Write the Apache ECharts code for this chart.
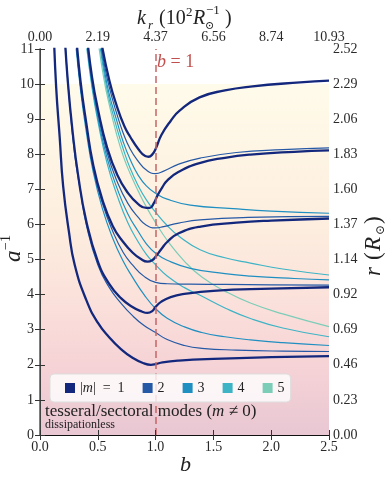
<!DOCTYPE html>
<html>
<head>
<meta charset="utf-8">
<script src="https://cdn.jsdelivr.net/npm/echarts@6.0.0/dist/echarts.min.js"></script>
<style>html,body{margin:0;padding:0;background:#fff}#chart{width:390px;height:482px}</style>
</head>
<body>
<div id="chart"></div>
<script>
// tick labels
const bLabels = ['0.0', '0.5', '1.0', '1.5', '2.0', '2.5'];
const kLabels = ['0.00', '2.19', '4.37', '6.56', '8.74', '10.93'];
const rLabels = ['0.00', '0.23', '0.46', '0.69', '0.92', '1.14', '1.37', '1.60', '1.83', '2.06', '2.29', '2.52'];
const legendNames = ['|m| = 1', '2', '3', '4', '5'];

// curves [b, a^-1]; lXmY = degree l, order |m|
const l1m1 = [[0.12,11.4],[0.14,9.9],[0.17,8.5],[0.2,7.1],[0.25,5.8],[0.3,4.85],[0.4,3.85],[0.5,3.2],[0.6,2.78],[0.7,2.45],[0.8,2.2],[0.9,2.04],[0.96,2.0],[1.0,2.02],[1.06,2.07],[1.2,2.12],[1.5,2.17],[2.0,2.22],[2.5,2.25]];
const l2m1 = [[0.21,11.6],[0.24,10.1],[0.28,8.7],[0.33,7.4],[0.4,6.1],[0.5,4.95],[0.6,4.3],[0.7,3.9],[0.8,3.65],[0.88,3.52],[0.93,3.48],[0.97,3.53],[1.0,3.65],[1.05,3.8],[1.13,3.93],[1.25,4.02],[1.5,4.11],[2.0,4.17],[2.5,4.21]];
const l3m1 = [[0.31,11.5],[0.35,10.1],[0.4,8.9],[0.46,7.7],[0.54,6.7],[0.63,5.95],[0.72,5.5],[0.8,5.2],[0.87,5.02],[0.93,4.94],[0.97,4.98],[1.0,5.08],[1.05,5.3],[1.1,5.5],[1.2,5.75],[1.39,5.94],[1.7,6.05],[2.0,6.11],[2.5,6.17]];
const l4m1 = [[0.405,11.4],[0.45,10.2],[0.5,9.3],[0.58,8.2],[0.67,7.4],[0.76,6.9],[0.85,6.58],[0.92,6.47],[0.95,6.47],[0.98,6.58],[1.02,6.85],[1.06,7.07],[1.1,7.25],[1.2,7.5],[1.38,7.75],[1.6,7.9],[1.82,7.99],[2.2,8.07],[2.5,8.11]];
const l5m1 = [[0.525,11.3],[0.6,10.1],[0.666,9.36],[0.73,8.8],[0.78,8.5],[0.85,8.15],[0.91,7.95],[0.94,7.93],[0.97,7.99],[1.0,8.15],[1.05,8.55],[1.13,8.95],[1.21,9.25],[1.38,9.62],[1.6,9.82],[1.82,9.93],[2.25,10.05],[2.5,10.1]];

const l2m2 = [[0.215,11.3],[0.25,9.7],[0.3,8.0],[0.35,6.95],[0.4,6.0],[0.5,4.85],[0.6,4.2],[0.7,3.76],[0.8,3.4],[0.9,3.12],[1.0,2.92],[1.1,2.72],[1.25,2.55],[1.4,2.47],[1.7,2.42],[2.1,2.39],[2.5,2.38]];
const l3m2 = [[0.31,11.3],[0.35,9.95],[0.4,8.8],[0.46,7.6],[0.54,6.6],[0.63,5.8],[0.72,5.2],[0.8,4.85],[0.9,4.52],[1.0,4.35],[1.1,4.31],[1.3,4.3],[1.6,4.29],[2.0,4.28],[2.5,4.27]];
const l4m2 = [[0.405,11.3],[0.45,10.1],[0.5,9.2],[0.58,8.05],[0.67,7.2],[0.76,6.6],[0.85,6.2],[0.92,5.98],[1.0,5.9],[1.07,5.94],[1.2,6.04],[1.385,6.13],[1.8,6.2],[2.5,6.23]];
const l5m2 = [[0.52,11.3],[0.56,10.5],[0.6,9.9],[0.66,9.2],[0.72,8.6],[0.78,8.15],[0.85,7.8],[0.92,7.55],[1.0,7.45],[1.07,7.52],[1.2,7.72],[1.385,7.89],[1.7,8.05],[2.1,8.13],[2.5,8.18]];

const l3m3 = [[0.305,11.3],[0.35,9.85],[0.4,8.65],[0.46,7.5],[0.54,6.45],[0.63,5.6],[0.72,4.95],[0.8,4.5],[0.9,4.0],[1.0,3.6],[1.1,3.33],[1.25,3.08],[1.4,2.92],[1.6,2.8],[1.82,2.71],[2.1,2.63],[2.5,2.55]];
const l4m3 = [[0.4,11.3],[0.45,10.0],[0.5,9.05],[0.58,7.9],[0.67,7.0],[0.76,6.3],[0.85,5.8],[0.92,5.45],[1.0,5.18],[1.1,4.98],[1.3,4.75],[1.6,4.6],[1.82,4.53],[2.2,4.46],[2.5,4.42]];
const l5m3 = [[0.515,11.3],[0.56,10.35],[0.6,9.7],[0.66,9.0],[0.72,8.35],[0.78,7.85],[0.85,7.4],[0.92,7.1],[1.0,6.89],[1.1,6.72],[1.3,6.55],[1.67,6.45],[2.0,6.38],[2.5,6.32]];

const l4m4 = [[0.395,11.3],[0.45,9.9],[0.5,8.95],[0.58,7.75],[0.67,6.8],[0.76,6.05],[0.85,5.5],[0.92,5.15],[1.0,4.85],[1.1,4.53],[1.25,4.2],[1.385,3.98],[1.6,3.62],[1.82,3.32],[2.1,3.05],[2.5,2.8]];
const l5m4 = [[0.51,11.3],[0.56,10.2],[0.6,9.55],[0.66,8.8],[0.72,8.15],[0.78,7.6],[0.85,7.1],[0.92,6.7],[1.0,6.35],[1.1,5.97],[1.2,5.67],[1.385,5.28],[1.6,5.05],[1.82,4.9],[2.1,4.73],[2.5,4.56]];

const l5m5 = [[0.5,11.3],[0.55,10.2],[0.6,9.4],[0.66,8.6],[0.72,7.95],[0.78,7.45],[0.85,6.95],[0.92,6.5],[1.0,6.05],[1.1,5.55],[1.25,4.95],[1.4,4.5],[1.6,4.1],[1.82,3.76],[2.1,3.45],[2.5,3.09]];

const mColors = ['#13287c', '#2559a6', '#1f8fc1', '#3db4c6', '#7ccdb8'];
const mWidths = [2.3, 1.2, 1.2, 1.2, 1.2];

// draw order: high |m| first, |m| = 1 on top
const curves = [
  [5, l5m5],
  [4, l4m4], [4, l5m4],
  [3, l3m3], [3, l4m3], [3, l5m3],
  [2, l2m2], [2, l3m2], [2, l4m2], [2, l5m2],
  [1, l1m1], [1, l2m1], [1, l3m1], [1, l4m1], [1, l5m1]
];

const SERIF = '"Liberation Serif", "DejaVu Serif", serif';

const chart = echarts.init(document.getElementById('chart'));

const series = curves.map(([m, data]) => ({
  type: 'line',
  name: legendNames[m - 1],
  data: data,
  showSymbol: false,
  smooth: 0.5,
  silent: true,
  z: 3,
  lineStyle: { width: mWidths[m - 1], color: mColors[m - 1] },
  itemStyle: { color: mColors[m - 1] }
}));

// background band below a^-1 = 10
series.unshift({
  type: 'line',
  data: [],
  silent: true,
  z: 1,
  markArea: {
    silent: true,
    itemStyle: {
      color: new echarts.graphic.LinearGradient(0, 0, 0, 1, [
        { offset: 0, color: '#fffbea' },
        { offset: 0.4, color: '#fdeedf' },
        { offset: 0.6, color: '#fbe2db' },
        { offset: 0.8, color: '#f6d3d6' },
        { offset: 1, color: '#e9c7d3' }
      ])
    },
    data: [[{ xAxis: 0, yAxis: 10 }, { xAxis: 2.5, yAxis: 0 }]]
  }
});

// b = 1 marker
series.push({
  type: 'line',
  data: [],
  silent: true,
  z: 3,
  markLine: {
    silent: true,
    symbol: 'none',
    animation: false,
    label: { show: false },
    lineStyle: { type: [7, 4], color: 'rgba(196,100,100,0.75)', width: 2 },
    data: [{ xAxis: 1 }]
  }
});

const axisCommon = {
  z: 5,
  axisLine: { show: true, lineStyle: { color: '#111', width: 1 } },
  axisTick: { show: true, inside: true, length: 5, lineStyle: { color: '#333' } },
  splitLine: { show: false },
  axisLabel: { fontFamily: SERIF, fontSize: 14, color: '#2a2a2a' }
};

const option = {
  animation: false,
  grid: { left: 40, right: 61, top: 49, bottom: 47 },
  legend: {
    data: legendNames,
    left: 50,
    top: 374,
    icon: 'rect',
    itemWidth: 10,
    itemHeight: 10,
    itemGap: 18,
    padding: [7, 6, 7, 15],
    backgroundColor: 'rgba(255,255,255,0.8)',
    borderColor: '#dddddd',
    borderWidth: 1,
    borderRadius: 4,
    z: 6,
    selectedMode: false,
    formatter: name => name === legendNames[0] ? '{n||}{i|m}{n||  =  1}' : '{n|' + name + '}',
    textStyle: {
      rich: {
        n: { fontFamily: SERIF, fontSize: 14, color: '#222' },
        i: { fontFamily: SERIF, fontSize: 14, fontStyle: 'italic', color: '#222' }
      }
    }
  },
  xAxis: [
    Object.assign({}, axisCommon, {
      type: 'value', position: 'bottom', min: 0, max: 2.5, interval: 0.5,
      axisLabel: Object.assign({}, axisCommon.axisLabel, { margin: 5, formatter: v => bLabels[Math.round(v / 0.5)] })
    }),
    Object.assign({}, axisCommon, {
      type: 'value', position: 'top', min: 0, max: 2.5, interval: 0.5,
      axisLabel: Object.assign({}, axisCommon.axisLabel, { margin: 5, formatter: v => kLabels[Math.round(v / 0.5)] })
    })
  ],
  yAxis: [
    Object.assign({}, axisCommon, {
      type: 'value', position: 'left', min: 0, max: 11, interval: 1,
      axisLabel: Object.assign({}, axisCommon.axisLabel, { margin: 6 })
    }),
    Object.assign({}, axisCommon, {
      type: 'value', position: 'right', min: 0, max: 11, interval: 1,
      axisLine: { show: true, lineStyle: { color: '#555', width: 1.5 } },
      axisLabel: Object.assign({}, axisCommon.axisLabel, { margin: 4, formatter: v => rLabels[v] })
    })
  ],
  series: series,
  graphic: [
    // top axis title: k_r (10^2 R_sun^-1)
    { type: 'text', left: 137, top: 9, style: { text: 'k', font: 'italic 20px ' + SERIF, fill: '#222' } },
    { type: 'text', left: 148, top: 19, style: { text: 'r', font: 'italic 13px ' + SERIF, fill: '#222' } },
    { type: 'text', left: 159, top: 9, style: { text: '(10', font: '20px ' + SERIF, fill: '#222' } },
    { type: 'text', left: 186, top: 6, style: { text: '2', font: '13px ' + SERIF, fill: '#222' } },
    { type: 'text', left: 193, top: 9, style: { text: 'R', font: 'italic 20px ' + SERIF, fill: '#222' } },
    { type: 'text', left: 205, top: 21, style: { text: '⊙', font: '11px ' + SERIF, fill: '#222' } },
    { type: 'text', left: 206, top: 4, style: { text: '−1', font: '13px ' + SERIF, fill: '#222' } },
    { type: 'text', left: 225, top: 9, style: { text: ')', font: '20px ' + SERIF, fill: '#222' } },
    // bottom axis title
    { type: 'text', left: 180, top: 454, style: { text: 'b', font: 'italic 22px ' + SERIF, fill: '#222' } },
    // left axis title a^-1
    {
      type: 'group', x: 14, y: 262, rotation: Math.PI / 2,
      children: [
        { type: 'text', x: 0, y: 0, style: { text: 'a', font: 'italic 23px ' + SERIF, fill: '#222', verticalAlign: 'middle' } },
        { type: 'text', x: 12, y: -8, style: { text: '−1', font: '14px ' + SERIF, fill: '#222', verticalAlign: 'middle' } }
      ]
    },
    // right axis title r (R_sun)
    {
      type: 'group', x: 374, y: 276, rotation: Math.PI / 2,
      children: [
        { type: 'text', x: 0, y: 0, style: { text: 'r', font: 'italic 23px ' + SERIF, fill: '#222', verticalAlign: 'middle' } },
        { type: 'text', x: 16, y: 0, style: { text: '(', font: '23px ' + SERIF, fill: '#222', verticalAlign: 'middle' } },
        { type: 'text', x: 25, y: 0, style: { text: 'R', font: 'italic 23px ' + SERIF, fill: '#222', verticalAlign: 'middle' } },
        { type: 'text', x: 41, y: 7, style: { text: '⊙', font: '12px ' + SERIF, fill: '#222', verticalAlign: 'middle' } },
        { type: 'text', x: 52, y: 0, style: { text: ')', font: '23px ' + SERIF, fill: '#222', verticalAlign: 'middle' } }
      ]
    },
    // b = 1 label
    {
      type: 'text', left: 157, top: 53, z: 10,
      style: {
        text: '{i|b} = 1',
        font: '18px ' + SERIF,
        fill: '#c0504d',
        rich: { i: { fontFamily: SERIF, fontSize: 18, fontStyle: 'italic', fill: '#c0504d' } }
      }
    },
    // annotation
    {
      type: 'text', left: 45, top: 403, z: 10,
      style: {
        text: 'tesseral/sectoral modes ({i|m} ≠ 0)',
        font: '17px ' + SERIF,
        fill: '#222',
        rich: { i: { fontFamily: SERIF, fontSize: 17, fontStyle: 'italic', fill: '#222' } }
      }
    },
    { type: 'text', left: 45, top: 419, z: 10, style: { text: 'dissipationless', font: '12px ' + SERIF, fill: '#222' } }
  ]
};

chart.setOption(option);
</script>
</body>
</html>
